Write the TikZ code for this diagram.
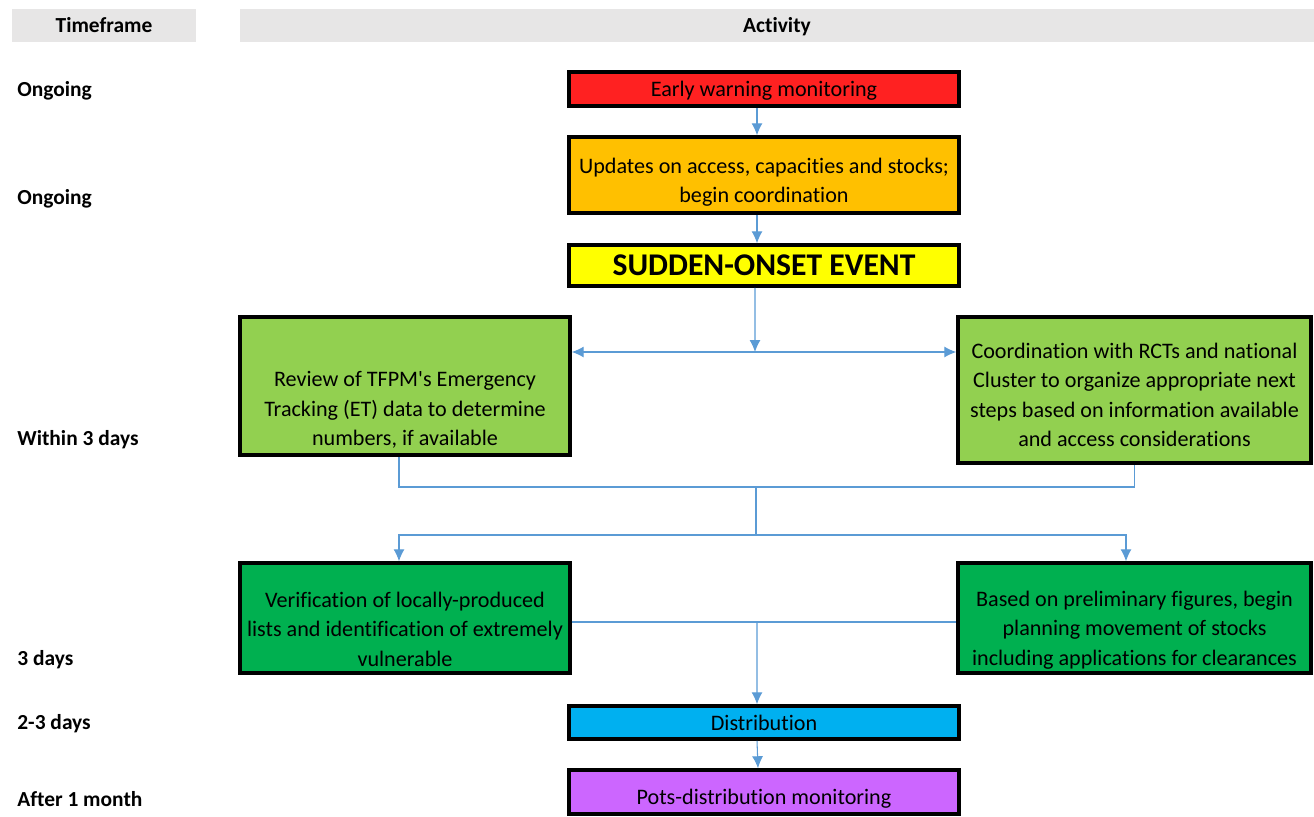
\documentclass[tikz,border=0pt]{standalone}
\usepackage{fontspec}
\setmainfont[Ligatures=NoCommon]{Carlito}
\usetikzlibrary{arrows.meta}
\definecolor{hdrgray}{HTML}{E7E6E6}
\definecolor{warnred}{HTML}{FF2121}
\definecolor{updorange}{HTML}{FFC000}
\definecolor{evtyellow}{HTML}{FFFF00}
\definecolor{litegreen}{HTML}{92D050}
\definecolor{darkgreen}{HTML}{00B050}
\definecolor{distblue}{HTML}{00B0F0}
\definecolor{monpurple}{HTML}{CC66FF}
\definecolor{linkblue}{HTML}{5B9BD5}
\tikzset{>={Latex[length=2.4mm,width=2.2mm]}}
\tikzset{
    txt/.style={font=\fontsize{12.6}{16.8}\selectfont, align=center, inner sep=0pt},
    hdr/.style={fill=hdrgray, font=\fontsize{12.2}{14}\selectfont\bfseries, minimum height=0.66cm,
        inner sep=0pt, text height=0.8em, text depth=0pt},
    when/.style={anchor=west, font=\fontsize{12.2}{14}\selectfont\bfseries, inner sep=0pt,
        text height=0.8em, text depth=0pt},
    actbox/.style={draw=black, line width=2pt, txt, minimum width=7.8cm},
    sidebox/.style={draw=black, line width=2pt, txt},
    link/.style={draw=linkblue, line width=0.6pt}
}

\begin{document}
\begin{tikzpicture}[x=0.02cm, y=-0.02cm]
    \useasboundingbox (0,0) rectangle (1314,816);

    % headers
    \node[hdr, minimum width=3.68cm] (hdr-time) at (104,25.5) {Timeframe};
    \node[hdr, minimum width=21.48cm] (hdr-act) at (777,25.5) {Activity};

    % timeframe column
    \node[when] (t-warn) at (17,89) {Ongoing};
    \node[when] (t-upd) at (17,197) {Ongoing};
    \node[when] (t-three) at (17,438) {Within 3 days};
    \node[when] (t-verif) at (17,658) {3 days};
    \node[when] (t-dist) at (17,722) {2-3 days};
    \node[when] (t-month) at (17,799) {After 1 month};

    % activity boxes
    \node[actbox, fill=warnred, minimum height=0.68cm] (early) at (764,89) {};
    \node[txt] (early-txt) at (764,91) {Early warning monitoring};
    \node[actbox, fill=updorange, minimum height=1.52cm] (updates) at (764,175) {};
    \node[txt] (updates-txt) at (764,182)
        {Updates on access, capacities and stocks;\\begin coordination};
    \node[actbox, fill=evtyellow, minimum height=0.82cm, font=\fontsize{18}{20}\selectfont\bfseries] (event) at (764,265.5) {SUDDEN-ONSET EVENT};

    \node[sidebox, fill=litegreen, minimum width=6.6cm, minimum height=2.76cm] (review) at (405,386) {};
    \node[txt] (review-txt) at (405,410)
        {Review of TFPM\textquotesingle s Emergency\\Tracking (ET) data to determine\\numbers, if available};
    \node[sidebox, fill=litegreen, minimum width=7.06cm, minimum height=2.92cm] (coord) at (1134.5,390) {};
    \node[txt] (coord-txt) at (1134.5,395)
        {Coordination with RCTs and national\\Cluster to organize appropriate next\\steps based on information available\\and access considerations};

    \node[sidebox, fill=darkgreen, minimum width=6.6cm, minimum height=2.2cm] (verify) at (405,618) {};
    \node[txt] (verify-txt) at (405,629)
        {Verification of locally-produced\\lists and identification of extremely\\vulnerable};
    \node[sidebox, fill=darkgreen, minimum width=7.06cm, minimum height=2.2cm] (plan) at (1134.5,618) {};
    \node[txt] (plan-txt) at (1134.5,630)
        {Based on preliminary figures, begin\\planning movement of stocks\\including applications for clearances};

    \node[actbox, fill=distblue, minimum height=0.66cm] (distrib) at (764,722.5) {Distribution};
    \node[actbox, fill=monpurple, minimum height=0.88cm] (monitor) at (764,792) {};
    \node[txt] (monitor-txt) at (764,799) {Pots-distribution monitoring};

    % connectors
    \coordinate (split) at (755,352);
    \coordinate (merge) at (756,487);
    \coordinate (fork) at (756,535);
    \coordinate (join) at (757,622);

    \draw[link,->] ([xshift=-0.14cm]early.south) -- ([xshift=-0.14cm]updates.north);
    \draw[link,->] ([xshift=-0.14cm]updates.south) -- ([xshift=-0.14cm]event.north);
    \draw[link,->] ([xshift=-0.18cm]event.south) -- (split);
    \draw[link,<->] (review.east |- split) -- (coord.west |- split);

    \draw[link] ([xshift=-0.12cm]review.south) |- (merge) -| (coord.south);
    \draw[link] (merge) -- (fork);
    \draw[link,->] (fork) -| ([xshift=-0.12cm]verify.north);
    \draw[link,->] (fork) -| ([xshift=-0.17cm]plan.north);

    \draw[link] (verify.east |- join) -- (plan.west |- join);
    \draw[link,->] (join) -- ([xshift=-0.14cm]distrib.north);
    \draw[link,->] ([xshift=-0.14cm]distrib.south) -- ([xshift=-0.12cm]monitor.north);

\end{tikzpicture}
\end{document}
